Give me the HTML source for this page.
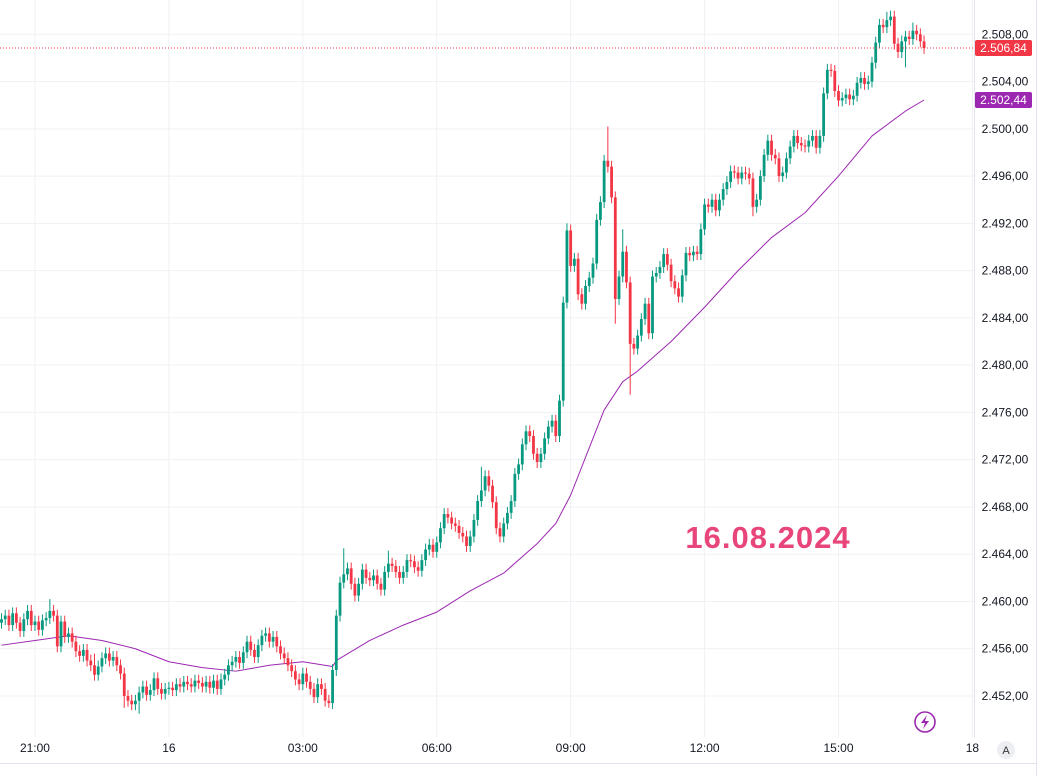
<!DOCTYPE html>
<html><head><meta charset="utf-8"><style>
body{margin:0;background:#fff;}
svg{display:block;font-family:"Liberation Sans",sans-serif;}
</style></head><body>
<svg id="chart" width="1040" height="776" xmlns="http://www.w3.org/2000/svg">
<g id="grid"></g>
<g id="ma"></g>
<g id="candles"></g>
<g id="yaxis"></g>
<g id="xaxis"></g>
<text x="768" y="548" text-anchor="middle" font-size="31" font-weight="bold" fill="#e8457a" letter-spacing="1">16.08.2024</text>
<g><circle cx="925" cy="722" r="10" fill="none" stroke="#9c27b0" stroke-width="1.6"/><path d="M927 715 L921 723 L925 723 L923 729 L929 721 L925 721 Z" fill="#9c27b0"/></g>
<g><circle cx="1006" cy="750" r="9" fill="#eceef2"/><text x="1006" y="754" text-anchor="middle" font-size="11" fill="#333">A</text></g>
</svg>
<script>
const closes=[2458.5,2458.8,2458.0,2459.0,2458.2,2457.5,2458.5,2459.2,2458.0,
2458.3,2457.6,2458.4,2458.6,2459.2,2458.8,2456.2,2458.3,2457.0,
2457.3,2456.6,2455.8,2455.4,2455.9,2455.0,2454.6,2453.8,2454.5,
2455.2,2455.6,2455.0,2455.3,2454.6,2453.9,2452.0,2451.6,2451.3,
2451.6,2452.3,2452.8,2452.1,2452.5,2453.5,2452.6,2452.2,2452.6,
2452.7,2452.5,2453.0,2452.8,2453.2,2453.0,2452.8,2453.3,2453.1,
2452.8,2453.2,2452.7,2453.3,2452.6,2453.4,2453.8,2454.6,2454.9,
2455.3,2454.8,2455.7,2456.6,2455.9,2455.3,2456.3,2457.1,2457.3,
2456.6,2457.0,2456.2,2455.6,2455.2,2454.6,2454.1,2453.4,2453.0,
2453.9,2453.2,2452.6,2451.9,2453.0,2452.6,2451.6,2451.4,2454.2,
2458.8,2461.6,2462.3,2462.8,2461.5,2460.5,2461.5,2462.7,2462.0,
2461.8,2462.2,2461.5,2461.0,2462.5,2463.2,2463.0,2462.5,2462.0,
2462.5,2463.5,2463.4,2462.9,2462.6,2463.5,2464.4,2464.8,2464.2,
2465.0,2466.2,2467.4,2467.1,2466.6,2466.4,2465.8,2465.5,2464.7,
2465.5,2466.9,2468.5,2469.4,2470.6,2469.8,2468.4,2466.2,2465.5,
2466.6,2467.5,2468.5,2470.8,2471.6,2473.3,2474.4,2474.0,2472.5,
2471.8,2472.5,2473.8,2474.8,2475.3,2474.0,2477.0,2485.3,2491.4,
2488.4,2489.0,2486.0,2485.2,2486.7,2487.4,2488.6,2492.3,2493.8,
2497.3,2496.8,2494.2,2485.6,2487.5,2489.6,2487.0,2481.8,2481.4,
2482.5,2483.9,2485.2,2482.7,2487.5,2487.8,2488.3,2489.4,2488.5,
2487.1,2486.5,2485.8,2487.6,2489.5,2489.3,2489.6,2489.4,2491.5,
2493.6,2493.4,2494.0,2493.1,2494.0,2494.9,2495.5,2496.4,2496.3,
2495.8,2496.3,2496.2,2495.8,2493.4,2494.0,2496.0,2497.8,2499.0,
2497.8,2497.5,2496.0,2496.3,2497.5,2498.5,2499.4,2498.8,2498.6,
2498.5,2499.0,2499.4,2498.4,2499.4,2503.0,2505.0,2504.9,2503.2,
2502.4,2502.6,2502.9,2502.5,2502.8,2503.9,2504.3,2503.8,2504.0,
2505.6,2507.3,2508.8,2508.6,2509.2,2509.5,2507.2,2506.5,2507.4,
2507.8,2507.6,2508.3,2508.0,2507.4,2506.84];
const firstOpen=2458.2;
const wickHighs={13:2460.2,25:2455.6,92:2464.5,104:2464.3,129:2471.4,152:2492.0,163:2500.2,167:2491.5,238:2509.9,245:2509.0};
const wickLows={37:2450.5,33:2451.0,88:2451.0,87:2451.1,169:2477.5,165:2483.5,243:2505.2,202:2492.6};
const maIdx=[0,9,18,27,36,45,54,63,72,81,89,90,99,108,117,126,135,144,149,153,158,162,167,171,180,189,198,207,216,225,234,243,248];
const maVals=[2456.3,2456.7,2457.1,2456.7,2456.0,2454.9,2454.4,2454.1,2454.6,2454.9,2454.5,2455.0,2456.7,2458.0,2459.1,2460.9,2462.4,2464.9,2466.6,2469.0,2473.0,2476.2,2478.6,2479.5,2482.0,2484.9,2488.0,2490.8,2492.9,2496.0,2499.4,2501.5,2502.44];
const yTicks=[2452,2456,2460,2464,2468,2472,2476,2480,2484,2488,2492,2496,2500,2504,2508];
const timeLabels=["21:00","16","03:00","06:00","09:00","12:00","15:00","18"];
const timeIdx=[9,45,81,117,153,189,225,261];
const lastPrice=2506.84, lastMA=2502.44;

const NS="http://www.w3.org/2000/svg";
const yS=v=>696-(v-2452)*11.816;
const xS=i=>1.5+i*3.72;
function mk(tag,attrs,parent){const e=document.createElementNS(NS,tag);for(const k in attrs)e.setAttribute(k,attrs[k]);parent.appendChild(e);return e;}
const fmt=v=>{const s=v.toFixed(2).replace('.',',');return s[0]+'.'+s.slice(1);};
const grid=document.getElementById('grid'),ya=document.getElementById('yaxis'),xa=document.getElementById('xaxis');
yTicks.forEach(v=>{
 const l=mk('line',{x1:0,x2:974,y1:yS(v),y2:yS(v),stroke:'#f0f1f4','stroke-width':1},grid);
 
 
 const t=mk('text',{x:1005,y:yS(v)+4,'text-anchor':'middle','font-size':12,fill:'#131722'},ya);
 t.textContent=fmt(v);
 
 
});
timeIdx.forEach((ix,k)=>{
 const x=xS(ix);
 if(x<974){const l=mk('line',{x1:x,x2:x,y1:0,y2:737,stroke:'#f0f1f4','stroke-width':1},grid);
 
 }
 const t=mk('text',{x:x,y:752,'text-anchor':'middle','font-size':12,fill:'#131722'},xa);
 t.textContent=timeLabels[k];
 
 
});
const sep=mk('line',{x1:974.5,x2:974.5,y1:0,y2:737,stroke:'#e0e3eb'},ya);


mk('line',{x1:0,x2:1036,y1:763.5,y2:763.5,stroke:'#e0e3eb'},xa);
mk('line',{x1:1036.5,x2:1036.5,y1:0,y2:776,stroke:'#e0e3eb'},xa);
const cg=document.getElementById('candles');
closes.forEach((c,i)=>{
 const o=i?closes[i-1]:firstOpen;
 const up=c>=o, col=up?'#089981':'#f23645';
 const hi=wickHighs[i]!==undefined?wickHighs[i]:Math.max(o,c)+0.5;
 const lo=wickLows[i]!==undefined?wickLows[i]:Math.min(o,c)-0.5;
 const x=xS(i);
 const g=mk('g',{},cg);
 
 
 mk('line',{x1:x,x2:x,y1:yS(hi),y2:yS(lo),stroke:col,'stroke-width':1},g);
 const top=yS(Math.max(o,c)),bot=yS(Math.min(o,c));
 mk('rect',{x:x-1.4,y:top,width:2.8,height:Math.max(1,bot-top),fill:col},g);
});
const pts=maIdx.map((ix,k)=>xS(ix)+','+yS(maVals[k])).join(' ');
const ml=mk('polyline',{points:pts,fill:'none',stroke:'#9c27b0','stroke-width':1,'stroke-linejoin':'round'},document.getElementById('ma'));


const pl=mk('line',{x1:0,x2:974,y1:yS(lastPrice),y2:yS(lastPrice),stroke:'#f23645','stroke-width':1,'stroke-dasharray':'1 2'},cg);


[[lastPrice,'#f23645','last-price-label'],[lastMA,'#9c27b0','ma-value-label']].forEach(([v,col,nm])=>{
 const g=mk('g',{},ya);
 
 
 mk('rect',{x:975,y:yS(v)-8,width:57,height:16,rx:2,fill:col},g);
 const t=mk('text',{x:1003.5,y:yS(v)+4,'text-anchor':'middle','font-size':12,fill:'#fff'},g);
 t.textContent=fmt(v);
});
</script>
</body></html>
